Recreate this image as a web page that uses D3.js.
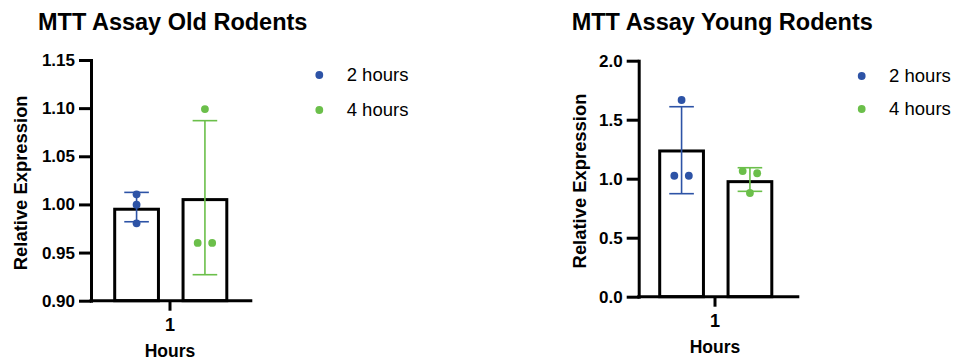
<!DOCTYPE html>
<html>
<head>
<meta charset="utf-8">
<script src="https://cdn.jsdelivr.net/npm/d3@7"></script>
<style>
  html, body { margin: 0; padding: 0; background: #fff; }
  svg { display: block; }
  text { font-family: "Liberation Sans", Arial, Helvetica, sans-serif; fill: #000; }
</style>
</head>
<body>
<svg id="chart" width="953" height="360"></svg>
<script>
// ---------- data ----------
const groups = ["1"];
const series = ["2 hours", "4 hours"];
const panelTitles = ["MTT Assay Old Rodents", "MTT Assay Young Rodents"];
const yAxisLabel = "Relative Expression";
const xAxisLabel = "Hours";

const oldTicks = [0.90, 0.95, 1.00, 1.05, 1.10, 1.15];
const oldMeans = [0.995, 1.005];
const oldErrLow = [0.982, 0.927];
const oldErrHigh = [1.0125, 1.087];
const oldPoints2h = [1.0105, 0.9997, 0.9804];
const oldPoints4h = [1.099, 0.960, 0.960];

const youngTicks = [0.0, 0.5, 1.0, 1.5, 2.0];
const youngMeans = [1.235, 0.975];
const youngErrLow = [0.873, 0.893];
const youngErrHigh = [1.610, 1.093];
const youngPoints2h = [1.667, 1.025, 1.025];
const youngPoints4h = [1.065, 1.046, 0.879];

// ---------- styles / layout ----------
const colors = ["#2D53A6", "#6BBF4A"];
const svg = d3.select("#chart");

const panels = [
  { title: panelTitles[0], ticks: oldTicks, fmt: d3.format(".2f"), means: oldMeans,
    lo: oldErrLow, hi: oldErrHigh, pts: [oldPoints2h, oldPoints4h],
    axisX: 91, xEnd: 252.3, yTop: 60, yBottom: 300.7, center: 170,
    titleX: 38, ylabX: 26.7, ylabY: 182.8, legX: 319.3, legY: [75, 110] },
  { title: panelTitles[1], ticks: youngTicks, fmt: d3.format(".1f"), means: youngMeans,
    lo: youngErrLow, hi: youngErrHigh, pts: [youngPoints2h, youngPoints4h],
    axisX: 638.7, xEnd: 799.3, yTop: 60.7, yBottom: 296.7, center: 715,
    titleX: 571.7, ylabX: 586, ylabY: 181, legX: 861.7, legY: [76, 109] }
];

panels.forEach(p => {
  const g = svg.append("g");
  const y = d3.scaleLinear()
    .domain([p.ticks[0], p.ticks[p.ticks.length - 1]])
    .range([p.yBottom, p.yTop]);
  const x = d3.scaleBand().domain(groups).range([p.center - 80, p.center + 80]);
  const xs = d3.scaleBand().domain(series).range([24.7, 136.8]).paddingInner(0.36).paddingOuter(0);

  // title
  g.append("text").attr("x", p.titleX).attr("y", 30)
    .attr("font-size", 23.5).attr("font-weight", "bold").text(p.title);

  // bars
  const gx = x(groups[0]);
  series.forEach((s, i) => {
    const bx = gx + xs(s);
    const bw = xs.bandwidth();
    g.append("rect")
      .attr("x", bx).attr("y", y(p.means[i]))
      .attr("width", bw).attr("height", p.yBottom - y(p.means[i]))
      .attr("fill", "#fff").attr("stroke", "#000").attr("stroke-width", 3);
  });

  // error bars
  series.forEach((s, i) => {
    const cx = gx + xs(s) + xs.bandwidth() / 2;
    const eg = g.append("g").attr("stroke", colors[i]).attr("stroke-width", 1.6);
    eg.append("line").attr("x1", cx).attr("x2", cx).attr("y1", y(p.lo[i])).attr("y2", y(p.hi[i]));
    [p.lo[i], p.hi[i]].forEach(v => {
      eg.append("line").attr("x1", cx - 12.3).attr("x2", cx + 12.3).attr("y1", y(v)).attr("y2", y(v));
    });
  });

  // points (horizontal spread for points that overlap vertically)
  series.forEach((s, i) => {
    const cx = gx + xs(s) + xs.bandwidth() / 2;
    const py = p.pts[i].map(v => y(v));
    const used = new Array(py.length).fill(false);
    const pos = [];
    for (let a = 0; a < py.length; a++) {
      if (used[a]) continue;
      const grp = [a];
      used[a] = true;
      for (let b = a + 1; b < py.length; b++) {
        if (!used[b] && Math.abs(py[b] - py[a]) < 8) { grp.push(b); used[b] = true; }
      }
      grp.forEach((k, j) => {
        const off = grp.length === 1 ? 0 : (j - (grp.length - 1) / 2) * 14.5;
        pos.push({ x: cx + off, y: py[k] });
      });
    }
    g.selectAll(null).data(pos).enter().append("circle")
      .attr("cx", d => d.x).attr("cy", d => d.y).attr("r", 3.9)
      .attr("fill", colors[i]);
  });

  // y axis
  const ya = g.append("g").attr("transform", `translate(${p.axisX},0)`)
    .call(d3.axisLeft(y).tickValues(p.ticks).tickFormat(p.fmt).tickSize(12).tickPadding(4).tickSizeOuter(0));
  ya.select(".domain").attr("stroke", "#000").attr("stroke-width", 3).attr("stroke-linecap", "square");
  ya.selectAll(".tick line").attr("stroke", "#000").attr("stroke-width", 3);
  ya.selectAll(".tick text").attr("font-size", 17).attr("font-weight", "bold")
    .attr("font-family", "'Liberation Sans', Arial, sans-serif").attr("fill", "#000");

  // x axis
  const xa = g.append("g").attr("transform", `translate(0,${p.yBottom})`)
    .call(d3.axisBottom(x).tickSize(10).tickPadding(8));
  xa.select(".domain").remove();
  xa.selectAll(".tick line").attr("stroke", "#000").attr("stroke-width", 3);
  xa.selectAll(".tick text").attr("font-size", 18).attr("font-weight", "bold")
    .attr("font-family", "'Liberation Sans', Arial, sans-serif").attr("fill", "#000");
  g.append("line").attr("x1", p.axisX - 1.5).attr("x2", p.xEnd)
    .attr("y1", p.yBottom).attr("y2", p.yBottom)
    .attr("stroke", "#000").attr("stroke-width", 3);

  // axis labels
  g.append("text").attr("x", p.center).attr("y", p.yBottom + 56.5)
    .attr("text-anchor", "middle").attr("font-size", 17.5).attr("font-weight", "bold").text(xAxisLabel);
  g.append("text").attr("transform", `translate(${p.ylabX},${p.ylabY}) rotate(-90)`)
    .attr("text-anchor", "middle").attr("font-size", 18.4).attr("font-weight", "bold").text(yAxisLabel);

  // legend
  series.forEach((s, i) => {
    g.append("circle").attr("cx", p.legX).attr("cy", p.legY[i]).attr("r", 3.9).attr("fill", colors[i]);
    g.append("text").attr("x", p.legX + 27.4).attr("y", p.legY[i]).attr("dy", "0.35em")
      .attr("font-size", 18.5).text(s);
  });
});
</script>
</body>
</html>
